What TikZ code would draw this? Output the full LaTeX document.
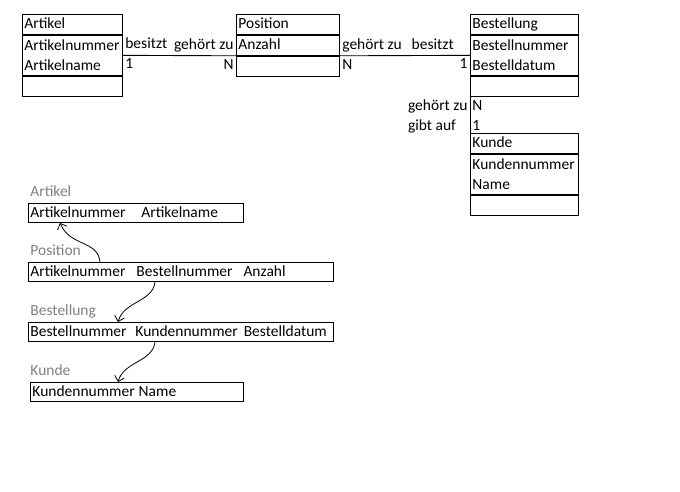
\documentclass[tikz,border=0pt]{standalone}
\usepackage{fontspec}
\setmainfont{Carlito}
\usetikzlibrary{positioning,arrows.meta}
\begin{document}
\begin{tikzpicture}[x=1pt,y=-1pt,line width=0.9pt,
  every node/.style={font=\fontsize{15.5}{20}\selectfont},
  zeile/.style={draw, anchor=north west, inner xsep=2pt, inner ysep=0pt, minimum height=20pt, text height=12pt, text depth=3pt, align=left},
  block/.style={draw, anchor=north west, inner xsep=2pt, inner ysep=0pt, minimum height=40pt, align=left},
  rolle/.style={inner sep=2pt, text height=11pt, text depth=4pt},
  relation/.style={draw, anchor=north west, inner xsep=2pt, inner ysep=0pt, minimum height=19pt, text height=12pt, text depth=3pt},
  tabname/.style={rolle, text=gray, anchor=south west, inner xsep=0pt},
  fk/.style={line width=0.8pt, -{Straight Barb[length=5pt,width=10pt]}}]
\useasboundingbox (0,0) rectangle (680,492);
% ER-Diagramm
\node[zeile, text width=96pt] (artikel-kopf) at (22,14) {Artikel};
\node[block, text width=96pt] (artikel-attr) at (artikel-kopf.south west) {Artikelnummer\\Artikelname};
\node[zeile, text width=96pt] (artikel-leer) at (artikel-attr.south west) {};
\node[zeile, text width=99pt] (position-kopf) at (236,14) {Position};
\node[zeile, text width=99pt] (position-anzahl) at (position-kopf.south west) {Anzahl};
\node[zeile, text width=99pt] (position-leer) at (position-anzahl.south west) {};
\node[zeile, text width=104pt] (bestellung-kopf) at (470,14) {Bestellung};
\node[block, text width=104pt] (bestellung-attr) at (bestellung-kopf.south west) {Bestellnummer\\Bestelldatum};
\node[zeile, text width=104pt] (bestellung-leer) at (bestellung-attr.south west) {};
\node[zeile, text width=104pt] (kunde-kopf) at (470,133) {Kunde};
\node[block, text width=104pt] (kunde-attr) at (kunde-kopf.south west) {Kundennummer\\Name};
\node[zeile, text width=104pt] (kunde-leer) at (kunde-attr.south west) {};
\draw (artikel-attr.east) -- (position-anzahl.south west)
  node[rolle, pos=0, anchor=south west] (r1a) {besitzt}
  node[rolle, pos=0, anchor=north west] (r1b) {1}
  node[rolle, pos=1, anchor=south east] (r1c) {gehört zu}
  node[rolle, pos=1, anchor=north east] (r1d) {N};
\draw (position-anzahl.south east) -- (bestellung-attr.west)
  node[rolle, pos=0, anchor=south west] (r2a) {gehört zu}
  node[rolle, pos=0, anchor=north west] (r2b) {N}
  node[rolle, pos=1, anchor=north east] (r2d) {1};
\node[rolle, right=5pt of r2a] (r2c) {besitzt};
\draw (bestellung-leer.south west) -- (kunde-kopf.north west)
  node[rolle, pos=0, anchor=north east] (r3a) {gehört zu}
  node[rolle, pos=0, anchor=north west] (r3b) {N};
\node[rolle, anchor=north west] (r3c) at (r3a.south west) {gibt auf};
\node[rolle, anchor=north west] (r3d) at (r3b.south west) {1};
% Relationenschema
\node[relation, text width=211pt] (artikel-rel) at (28,203) {Artikelnummer\hspace{16pt}Artikelname};
\node[tabname] (artikel-name) at ([xshift=2pt]artikel-rel.north west) {Artikel};
\node[relation, text width=301pt] (position-rel) at (28,262) {Artikelnummer\hspace{11pt}Bestellnummer\hspace{11pt}Anzahl};
\node[tabname] (position-name) at ([xshift=2pt]position-rel.north west) {Position};
\node[relation, text width=301pt] (bestellung-rel) at (28,322) {Bestellnummer\hspace{9pt}Kundennummer\hspace{6pt}Bestelldatum};
\node[tabname] (bestellung-name) at ([xshift=2pt]bestellung-rel.north west) {Bestellung};
\node[relation, text width=209pt] (kunde-rel) at (30,382) {Kundennummer\hspace{4pt}Name};
\node[tabname] (kunde-name) at ([xshift=0pt]kunde-rel.north west) {Kunde};
\draw[fk] ([xshift=72pt]position-rel.north west) .. controls +(-2,-22) and +(10,24) .. ([xshift=32pt]artikel-rel.south west);
\draw[fk] ([xshift=127pt]position-rel.south west) .. controls +(-2,20) and +(6,-21) .. ([xshift=90pt]bestellung-rel.north west);
\draw[fk] ([xshift=127pt]bestellung-rel.south west) .. controls +(-2,20) and +(6,-21) .. ([xshift=88pt]kunde-rel.north west);
\end{tikzpicture}
\end{document}
